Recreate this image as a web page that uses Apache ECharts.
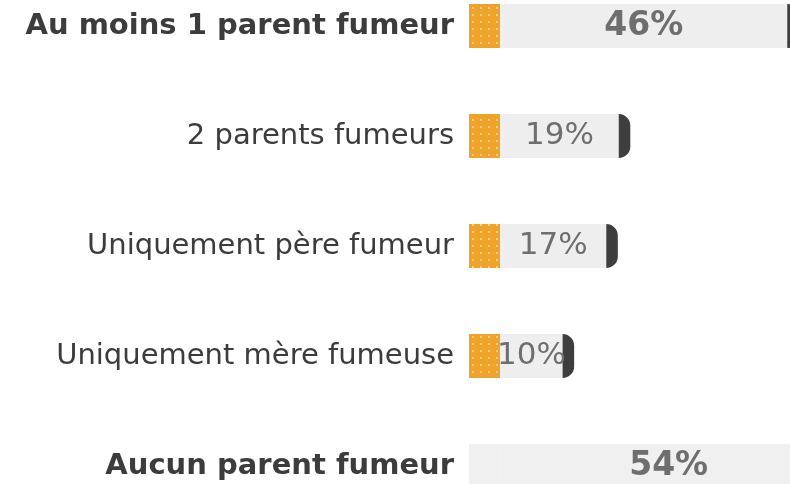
<!DOCTYPE html>
<html style="height: 100%">
<head>
  <meta charset="UTF-8">
  <title>Parents fumeurs</title>
  <script src="https://cdn.jsdelivr.net/npm/echarts@6/dist/echarts.min.js"></script>
  <style>
    html, body { margin: 0; height: 100%; width: 100%; background: #fff; }
    #chart { width: 790px; height: 484px; }
  </style>
</head>
<body>
  <div id="chart"></div>
  <script>
    // données
    const categories = ['Au moins 1 parent fumeur', '2 parents fumeurs', 'Uniquement père fumeur', 'Uniquement mère fumeuse', 'Aucun parent fumeur'];
    const values = [46, 19, 17, 10, 54];
    const bold = [true, false, false, false, true];
    const smoker = [true, true, true, true, false];

    const font = 'DejaVu Sans, Verdana, sans-serif';
    const filterLen = 5;   // longueur du filtre (en %)
    const tipLen = 1.85;   // longueur de la cendre (en %)

    const chart = echarts.init(document.getElementById('chart'));

    chart.setOption({
      animation: false,
      grid: { left: 469, width: 321, top: -29, height: 550, outerBoundsMode: 'none', containLabel: false },
      xAxis: { type: 'value', min: 0, max: 51.44, show: false },
      yAxis: {
        type: 'category',
        inverse: true,
        data: categories.map((c, i) => ({
          value: c,
          textStyle: { fontWeight: bold[i] ? 'bold' : 'normal' }
        })),
        axisLine: { show: false },
        axisTick: { show: false },
        axisLabel: { margin: 15, fontSize: 29, color: '#3c3c3c', fontFamily: font }
      },
      series: [
        {
          name: 'filtre',
          type: 'bar',
          stack: 'c',
          barWidth: 44,
          clip: false,
          data: smoker.map(s => ({
            value: filterLen,
            itemStyle: s ? {
              color: '#f0a32a',
              decal: {
                symbol: 'rect',
                symbolSize: 1,
                dashArrayX: [2, 6],
                dashArrayY: [2, 5],
                color: 'rgba(255, 225, 160, 0.7)'
              }
            } : { color: '#f0f0f0' }
          }))
        },
        {
          name: 'corps',
          type: 'bar',
          stack: 'c',
          barWidth: 44,
          clip: false,
          data: values.map((v, i) => ({
            value: v,
            itemStyle: { color: smoker[i] ? '#eeeeee' : '#f0f0f0' },
            label: { fontWeight: bold[i] ? 'bold' : 'normal', fontSize: bold[i] ? 33 : 31 }
          })),
          label: {
            show: true,
            position: 'inside',
            formatter: '{c}%',
            fontSize: 31,
            color: '#6e6e6e',
            fontFamily: font
          }
        },
        {
          name: 'cendre',
          type: 'bar',
          stack: 'c',
          barWidth: 44,
          clip: false,
          data: smoker.map(s => (s ? tipLen : 0)),
          itemStyle: { color: '#3e3e3e', borderRadius: [0, 22, 22, 0] }
        }
      ]
    });
  </script>
</body>
</html>
